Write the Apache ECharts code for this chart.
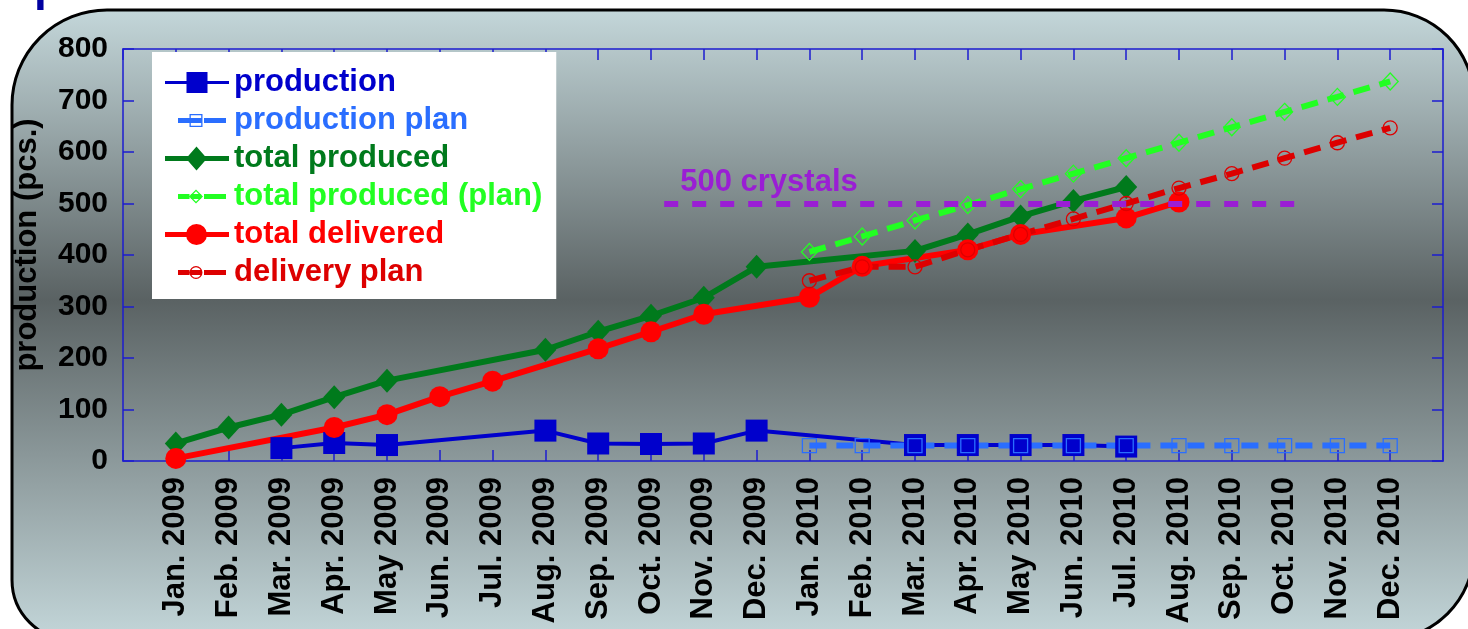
<!DOCTYPE html>
<html>
<head>
<meta charset="utf-8">
<script src="https://cdn.jsdelivr.net/npm/echarts@6/dist/echarts.min.js"></script>
<style>
  html, body { margin: 0; padding: 0; background: #ffffff; }
  #chart { width: 1468px; height: 629px; }
</style>
</head>
<body>
<div id="chart"></div>
<script>
// Months on the horizontal axis
const months = [
  'Jan. 2009', 'Feb. 2009', 'Mar. 2009', 'Apr. 2009', 'May 2009', 'Jun. 2009',
  'Jul. 2009', 'Aug. 2009', 'Sep. 2009', 'Oct. 2009', 'Nov. 2009', 'Dec. 2009',
  'Jan. 2010', 'Feb. 2010', 'Mar. 2010', 'Apr. 2010', 'May 2010', 'Jun. 2010',
  'Jul. 2010', 'Aug. 2010', 'Sep. 2010', 'Oct. 2010', 'Nov. 2010', 'Dec. 2010'
];

// Monthly values (pcs.), null = no entry for that month
const production = [null, null, 25, 35, 31, null, null, 59, 34, 33, 34, 59,
                    null, null, 31, 31, 31, 31, 28, null, null, null, null, null];
const productionPlan = [null, null, null, null, null, null, null, null, null, null, null, null,
                        30, 30, 30, 30, 30, 30, 30, 30, 30, 30, 30, 30];
const totalProduced = [34, 65, 90, 124, 156, null, null, 216, 251, 282, 317, 377,
                       null, null, 408, 440, 475, 505, 532, null, null, null, null, null];
const totalProducedPlan = [null, null, null, null, null, null, null, null, null, null, null, null,
                           406, 436, 467, 497, 528, 558, 588, 618, 648, 678, 707, 737];
const totalDelivered = [5, null, null, 65, 90, 125, 155, null, 218, 251, 285, null,
                        318, 378, null, 410, 440, null, 472, 503, null, null, null, null];
const deliveryPlan = [null, null, null, null, null, null, null, null, null, null, null, null,
                      350, 377, 377, 410, 440, 470, 500, 530, 558, 588, 618, 647];

// Target level line (position on the month scale, 0 = Jan. 2009)
const crystalsLevel = 500;
const crystalsFrom = 9.25;
const crystalsTo = 21.2;
const crystalsText = '500 crystals';

// Vertical scale
const yMin = 0, yMax = 800, yStep = 100;

const FONT = "'Liberation Sans', Arial, Helvetica, sans-serif";
const AXIS_BLUE = '#1c1cd0';
const PURPLE = '#9a1ed4';

const names = ['production', 'production plan', 'total produced',
               'total produced (plan)', 'total delivered', 'delivery plan'];
const colors = ['#0000cc', '#2a6eff', '#007a1c', '#22ff22', '#ff0000', '#dd0000'];

// legend glyphs: line + marker, drawn in a 64 x 24 box
const box = 'M0 0L0.01 0M64 24L63.99 24';
const dashes = 'M13 9.5H24.5V14.5H13ZM39 9.5H61V14.5H39Z';
const icons = [
  'path://' + box + 'M0 10.5H64V13.5H0ZM21.5 1.5H42.5V22.5H21.5Z',
  'path://' + box + dashes + 'M24.5 5.5H37.5V18.5H24.5ZM25.8 6.8V17.2H36.2V6.8ZM25.8 9.5H36.2V14.5H25.8Z',
  'path://' + box + 'M0 9.5H64V14.5H0ZM31.5 0L42 12L31.5 24L21 12Z',
  'path://' + box + dashes + 'M31 5L38 12L31 19L24 12ZM31 6.8L25.8 12L31 17.2L36.2 12ZM25.8 9.5H36.2V14.5H25.8Z',
  'path://' + box + 'M0 9.5H64V14.5H0ZM21 12A10.5 10.5 0 1 1 42 12A10.5 10.5 0 1 1 21 12Z',
  'path://' + box + dashes + 'M24.5 12A6.5 6.5 0 1 1 37.5 12A6.5 6.5 0 1 1 24.5 12ZM25.8 12A5.2 5.2 0 1 0 36.2 12A5.2 5.2 0 1 0 25.8 12ZM25.8 9.5H36.2V14.5H25.8Z'
];

// [monthIndex, value] pairs for the months that have a value
const pts = arr => arr.map((v, i) => (v == null ? null : [i, v])).filter(Boolean);

function lineSeries(name, arr, color, opts) {
  return Object.assign({
    name: name,
    type: 'line',
    data: pts(arr),
    xAxisIndex: 0,
    yAxisIndex: 0,
    silent: true,
    emphasis: { disabled: true },
    animation: false
  }, opts(color));
}

const solid = (width, symbol, size) => color => ({
  symbol: symbol,
  symbolSize: size,
  lineStyle: { color: color, width: width, type: 'solid' },
  itemStyle: { color: color, borderWidth: 0 }
});
const planned = (symbol, size) => color => ({
  symbol: symbol,
  symbolSize: size,
  lineStyle: { color: color, width: 6, type: [17, 10] },
  itemStyle: { color: 'rgba(0,0,0,0)', borderColor: color, borderWidth: 1.3 }
});

const axisLineStyle = { show: true, onZero: false, lineStyle: { color: AXIS_BLUE, width: 1.5 } };
const axisTickStyle = { show: true, inside: true, length: 11, lineStyle: { color: AXIS_BLUE, width: 1.5 } };

const chart = echarts.init(document.getElementById('chart'), null, { renderer: 'canvas' });

chart.setOption({
  animation: false,
  backgroundColor: '#ffffff',
  graphic: [
    {
      type: 'rect',
      z: -10,
      silent: true,
      shape: { x: 12, y: 10, width: 1462, height: 630, r: [95, 90, 90, 60] },
      style: {
        fill: new echarts.graphic.LinearGradient(0, 0, 0, 1, [
          { offset: 0, color: '#c4d7da' },
          { offset: 0.46, color: '#5a6263' },
          { offset: 1, color: '#c4d7da' }
        ]),
        stroke: '#000000',
        lineWidth: 3
      }
    },
    {
      type: 'text',
      z: -5,
      silent: true,
      x: 34,
      y: -13,
      style: {
        text: 'production',
        font: 'bold 46px ' + FONT,
        fill: '#0000a0',
        verticalAlign: 'middle'
      }
    }
  ],
  grid: {
    left: 123, right: 25, top: 49, bottom: 168,
    containLabel: false,
    outerBoundsMode: 'none'
  },
  legend: {
    orient: 'vertical',
    left: 152,
    top: 52,
    padding: [15, 14, 11, 13],
    backgroundColor: '#ffffff',
    itemWidth: 64,
    itemHeight: 24,
    itemGap: 7,
    selectedMode: false,
    symbolKeepAspect: true,
    textStyle: { fontFamily: FONT, fontWeight: 'bold', fontSize: 31 },
    data: names.map((n, i) => ({
      name: n,
      icon: icons[i],
      itemStyle: { color: colors[i], borderWidth: 0 },
      textStyle: { color: colors[i], fontFamily: FONT, fontWeight: 'bold', fontSize: 31 }
    }))
  },
  xAxis: [
    {
      type: 'value',
      position: 'bottom',
      min: -1,
      max: months.length,
      interval: 1,
      axisLine: axisLineStyle,
      axisTick: axisTickStyle,
      splitLine: { show: false },
      axisLabel: {
        rotate: 90,
        margin: 16,
        formatter: v => months[v] || '',
        fontFamily: FONT, fontWeight: 'bold', fontSize: 31, color: '#000000'
      }
    },
    {
      type: 'value',
      position: 'top',
      min: -1,
      max: months.length,
      interval: 1,
      axisLine: axisLineStyle,
      axisTick: axisTickStyle,
      splitLine: { show: false },
      axisLabel: { show: false }
    }
  ],
  yAxis: [
    {
      type: 'value',
      position: 'left',
      min: yMin,
      max: yMax,
      interval: yStep,
      name: 'production (pcs.)',
      nameLocation: 'middle',
      nameGap: 80,
      nameTextStyle: {
        fontFamily: FONT, fontWeight: 'bold', fontSize: 31, color: '#000000',
        padding: [0, 0, 0, 20]
      },
      axisLine: axisLineStyle,
      axisTick: axisTickStyle,
      splitLine: { show: false },
      axisLabel: { margin: 15, fontFamily: FONT, fontWeight: 'bold', fontSize: 30, color: '#000000' }
    },
    {
      type: 'value',
      position: 'right',
      min: yMin,
      max: yMax,
      interval: yStep,
      axisLine: axisLineStyle,
      axisTick: axisTickStyle,
      splitLine: { show: false },
      axisLabel: { show: false }
    }
  ],
  series: [
    {
      name: 'target',
      type: 'line',
      data: [],
      silent: true,
      animation: false,
      markLine: {
        silent: true,
        animation: false,
        symbol: ['none', 'none'],
        lineStyle: { color: PURPLE, width: 6, type: [14, 14] },
        emphasis: { disabled: true },
        label: {
          show: true,
          position: 'insideStartTop',
          formatter: crystalsText,
          color: PURPLE,
          fontFamily: FONT,
          fontWeight: 'bold',
          fontSize: 31,
          distance: [16, 6]
        },
        data: [[
          { coord: [crystalsFrom, crystalsLevel] },
          { coord: [crystalsTo, crystalsLevel] }
        ]]
      }
    },
    lineSeries(names[0], production, colors[0], solid(4, 'rect', 22)),
    lineSeries(names[1], productionPlan, colors[1], planned('rect', 14)),
    lineSeries(names[2], totalProduced, colors[2], solid(6, 'diamond', [22, 24])),
    lineSeries(names[3], totalProducedPlan, colors[3], planned('diamond', [16, 17])),
    lineSeries(names[4], totalDelivered, colors[4], solid(6, 'circle', 21)),
    lineSeries(names[5], deliveryPlan, colors[5], planned('circle', 14))
  ]
});
</script>
</body>
</html>
